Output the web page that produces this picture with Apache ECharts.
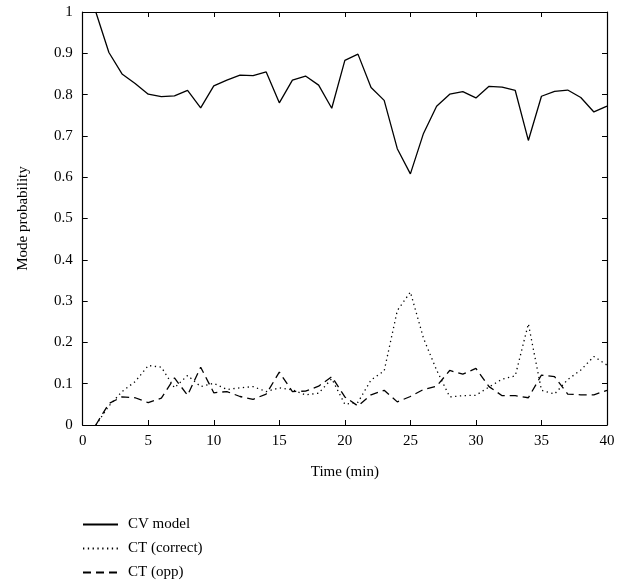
<!DOCTYPE html>
<html>
<head>
<meta charset="utf-8">
<script src="https://cdn.jsdelivr.net/npm/echarts@6/dist/echarts.min.js"></script>
<style>html,body{margin:0;padding:0;background:#fff;}#chart{width:627px;height:588px;}</style>
</head>
<body>
<div id="chart"></div>
<script>
const timeMin = [1,2,3,4,5,6,7,8,9,10,11,12,13,14,15,16,17,18,19,20,21,22,23,24,25,26,27,28,29,30,31,32,33,34,35,36,37,38,39,40];
const cvModel = [1.000,0.902,0.850,0.827,0.801,0.795,0.797,0.810,0.768,0.821,0.835,0.847,0.846,0.855,0.780,0.835,0.845,0.823,0.767,0.883,0.898,0.817,0.786,0.669,0.608,0.706,0.772,0.801,0.807,0.792,0.820,0.818,0.810,0.689,0.796,0.808,0.811,0.793,0.758,0.772];
const ctCorrect = [0.000,0.046,0.081,0.105,0.144,0.140,0.090,0.120,0.093,0.101,0.086,0.090,0.093,0.081,0.090,0.085,0.073,0.077,0.112,0.050,0.055,0.109,0.131,0.277,0.322,0.210,0.133,0.068,0.071,0.072,0.092,0.111,0.119,0.245,0.084,0.075,0.110,0.133,0.166,0.145];
const ctOpp = [0.000,0.052,0.068,0.066,0.054,0.065,0.114,0.072,0.140,0.078,0.081,0.069,0.062,0.075,0.128,0.081,0.082,0.094,0.117,0.068,0.046,0.073,0.084,0.056,0.069,0.086,0.094,0.132,0.123,0.137,0.093,0.071,0.071,0.066,0.121,0.117,0.075,0.073,0.073,0.084];
const seriesNames = ['CV model','CT (correct)','CT (opp)'];

const FONT = 'Liberation Serif';
const pairs = arr => timeMin.map((t, i) => [t, arr[i]]);
const chart = echarts.init(document.getElementById('chart'), null, {renderer: 'canvas'});
const axisLine = {show: true, onZero: false, lineStyle: {color: '#000', width: 1.2}};
const tick = {show: true, inside: true, length: 5, lineStyle: {color: '#000', width: 1}};
const lbl = {color: '#000', fontFamily: FONT, fontSize: 15};
chart.setOption({
  animation: false,
  backgroundColor: '#fff',
  grid: {left: 82.7, right: 20, top: 12, bottom: 163, containLabel: false, outerBoundsMode: 'none'},
  legend: {
    orient: 'vertical', left: 77, top: 512, itemWidth: 35, itemHeight: 10, itemGap: 9,
    itemStyle: {opacity: 0},
    textStyle: {color: '#000', fontFamily: FONT, fontSize: 15, padding: [0, 0, 0, 5]},
    data: seriesNames
  },
  xAxis: [
    {type: 'value', min: 0, max: 40, interval: 5, position: 'bottom',
     axisLine: axisLine, axisTick: tick, splitLine: {show: false},
     axisLabel: Object.assign({margin: 9}, lbl),
     name: 'Time (min)', nameLocation: 'middle', nameGap: 40,
     nameTextStyle: {color: '#000', fontFamily: FONT, fontSize: 15}},
    {type: 'value', min: 0, max: 40, interval: 5, position: 'top',
     axisLine: axisLine, axisTick: tick, splitLine: {show: false}, axisLabel: {show: false}}
  ],
  yAxis: [
    {type: 'value', min: 0, max: 1, interval: 0.1, position: 'left',
     axisLine: axisLine, axisTick: tick, splitLine: {show: false},
     axisLabel: Object.assign({margin: 10, formatter: v => (Math.round(v * 10) / 10).toString()}, lbl),
     name: 'Mode probability', nameLocation: 'middle', nameGap: 52,
     nameTextStyle: {color: '#000', fontFamily: FONT, fontSize: 15}},
    {type: 'value', min: 0, max: 1, interval: 0.1, position: 'right',
     axisLine: axisLine, axisTick: tick, splitLine: {show: false}, axisLabel: {show: false}}
  ],
  series: [
    {name: seriesNames[0], type: 'line', data: pairs(cvModel), symbol: 'none',
     lineStyle: {color: '#000', width: 1.3, type: 'solid'}, itemStyle: {color: '#000'}},
    {name: seriesNames[1], type: 'line', data: pairs(ctCorrect), symbol: 'none',
     lineStyle: {color: '#000', width: 1.3, type: [1.3, 3.5]}, itemStyle: {color: '#000'}},
    {name: seriesNames[2], type: 'line', data: pairs(ctOpp), symbol: 'none',
     lineStyle: {color: '#000', width: 1.3, type: [8, 5]}, itemStyle: {color: '#000'}}
  ]
});
</script>
</body>
</html>
